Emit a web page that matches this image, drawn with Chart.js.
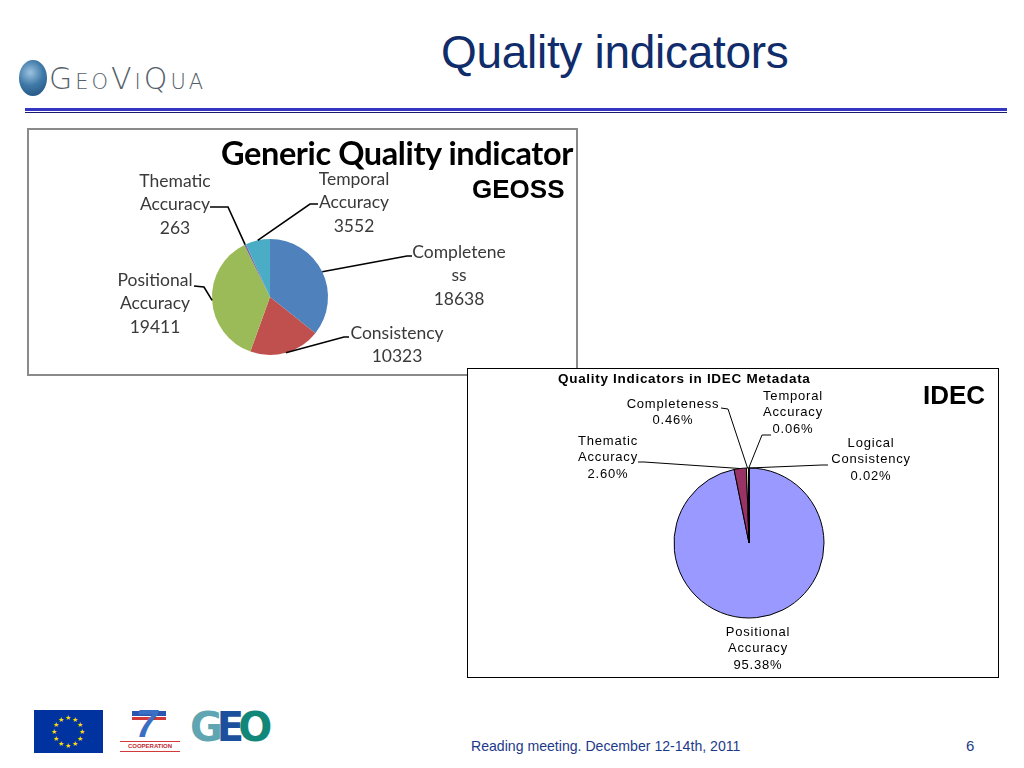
<!DOCTYPE html>
<html>
<head>
<meta charset="utf-8">
<script src="https://cdn.jsdelivr.net/npm/chart.js@4/dist/chart.umd.min.js"></script>
<style>
  html, body { margin:0; padding:0; background:#fff; }
  body { width:1024px; height:768px; position:relative; overflow:hidden; font-family:"Liberation Sans", Arial, sans-serif; }
  .abs { position:absolute; }
  #title { left:441px; top:25px; font-size:46px; color:#102C6A; white-space:nowrap; letter-spacing:-0.3px; }
  #rule1 { left:25px; top:108px; width:982px; height:3px; background:#3535C4; }
  #rule2 { left:25px; top:112px; width:982px; height:1px; background:#1a1a70; }
  #geossBox { left:27px; top:128px; width:547px; height:244px; border:2px solid #8a8a8a; background:#fff; }
  #idecBox { left:467px; top:368px; width:530px; height:308px; border:1px solid #000; background:#fff; }
  #geossTitle { left:221px; top:133px; font-family:Lato, "Open Sans", sans-serif; font-weight:bold; font-size:32.5px; color:#000; white-space:nowrap; letter-spacing:-0.4px; }
  #geossSub { left:472px; top:174px; font-weight:bold; font-size:26px; color:#000; }
  #idecTitle { left:558px; top:371px; font-weight:bold; font-size:13.5px; letter-spacing:0.7px; color:#000; white-space:nowrap; }
  #idecSub { left:923px; top:380px; font-weight:bold; font-size:26px; color:#000; }
  #footer { left:471px; top:737px; font-size:15px; color:#1C3A8A; white-space:nowrap; transform:scaleX(0.94); transform-origin:left top; }
  #pagenum { left:966px; top:737px; font-size:15px; color:#1C3A8A; }
  #globe { left:19px; top:60px; width:28px; height:36px; border-radius:50%;
           background:radial-gradient(circle at 40% 35%, #9cc3e0 0%, #3f79a8 45%, #1d4a78 100%); }
  #geovi { left:49px; top:61px; font-family:"DejaVu Sans", sans-serif; font-weight:300; color:#55606a; white-space:nowrap; letter-spacing:3px; }
  #geovi .b { font-size:30px; }
  #geovi .s { font-size:21px; }
  #eu { left:34px; top:710px; width:69px; height:43px; background:#0033A0; }
  #eu span { position:absolute; color:#FFDD00; font-size:7px; line-height:7px; }
  #fp7 { left:118px; top:711px; width:62px; height:42px; }
  #geo { left:190px; top:704px; font-family:"DejaVu Sans", sans-serif; font-weight:bold; font-size:40px; letter-spacing:-6px; white-space:nowrap; }
</style>
</head>
<body>
<div id="globe" class="abs"></div>
<div id="geovi" class="abs"><span class="b">G</span><span class="s">EO</span><span class="b">V</span><span class="s">I</span><span class="b">Q</span><span class="s">UA</span></div>
<div id="title" class="abs">Quality indicators</div>
<div id="rule1" class="abs"></div>
<div id="rule2" class="abs"></div>

<div id="geossBox" class="abs"><canvas id="geossChart" width="547" height="244"></canvas></div>
<div id="geossTitle" class="abs">Generic Quality indicator</div>
<div id="geossSub" class="abs">GEOSS</div>

<div id="idecBox" class="abs"><canvas id="idecChart" width="530" height="308"></canvas></div>
<div id="idecTitle" class="abs">Quality Indicators in IDEC Metadata</div>
<div id="idecSub" class="abs">IDEC</div>

<div id="eu" class="abs"></div>
<div id="fp7" class="abs">
  <div class="abs" style="left:14px;top:0;width:34px;height:5px;background:#2a56b0;"></div>
  <div class="abs" style="left:14px;top:6px;width:34px;height:3px;background:#d23a3a;"></div>
  <div class="abs" style="left:18px;top:-8px;font:italic bold 38px 'Liberation Sans';color:#3b6fc4;">7</div>
  <div class="abs" style="left:2px;top:30px;width:60px;height:9px;border-top:1px solid #d23a3a;border-bottom:1px solid #d23a3a;font:bold 6px 'Liberation Sans';color:#c0282d;text-align:center;line-height:9px;">COOPERATION</div>
</div>
<div id="geo" class="abs"><span style="color:#5FA6B2">G</span><span style="color:#1C4F9C">E</span><span style="color:#11877A">O</span></div>

<div id="footer" class="abs">Reading meeting. December 12-14th, 2011</div>
<div id="pagenum" class="abs">6</div>

<script>
// ---------- DATA ----------
const geossCategories = ['Completeness', 'Consistency', 'Positional Accuracy', 'Thematic Accuracy', 'Temporal Accuracy'];
const geossValues = [18638, 10323, 19411, 263, 3552];
const geossLabelLines = [['Completene', 'ss'], ['Consistency'], ['Positional', 'Accuracy'], ['Thematic', 'Accuracy'], ['Temporal', 'Accuracy']];

const idecCategories = ['Positional Accuracy', 'Thematic Accuracy', 'Completeness', 'Temporal Accuracy', 'Logical Consistency'];
const idecValues = [95.38, 2.60, 0.46, 0.06, 0.02];
const idecLabelLines = [['Positional', 'Accuracy'], ['Thematic', 'Accuracy'], ['Completeness'], ['Temporal', 'Accuracy'], ['Logical', 'Consistency']];

// ---------- STYLES / LAYOUT ----------
const geossColors = ['#4F81BD', '#C0504D', '#9BBB59', '#8064A2', '#4BACC6'];
const idecColors = ['#9999FF', '#993366', '#FFFFCC', '#CCFFFF', '#660066'];

// label anchor positions (canvas px), leader line end at label & elbow
const geossLabelLayout = [
  { x: 430, y: 122, end: [383, 126], elbow: [378, 126] },
  { x: 368, y: 203, end: [320, 207], elbow: [315, 207] },
  { x: 126, y: 150, end: [165, 156], elbow: [175, 157] },
  { x: 146, y: 51,  end: [181, 77],  elbow: [199, 77] },
  { x: 325, y: 49,  end: [289, 74],  elbow: [281, 74] }
];
const idecLabelLayout = [
  { x: 290, y: 263 },
  { x: 140, y: 72,  end: [170, 93], elbow: [176, 93] },
  { x: 205, y: 35,  end: [253, 39], elbow: [260, 40] },
  { x: 325, y: 27,  end: [303, 66], elbow: [294, 66] },
  { x: 403, y: 74,  end: [360, 96], elbow: [354, 96] }
];

const sliceLabels = {
  id: 'sliceLabels',
  afterDatasetsDraw(chart, args, o) {
    const ctx = chart.ctx;
    const meta = chart.getDatasetMeta(0);
    const vals = chart.data.datasets[0].data;
    ctx.save();
    ctx.font = o.font;
    ctx.fillStyle = o.color;
    ctx.strokeStyle = o.lineColor;
    ctx.lineWidth = o.lineWidth;
    ctx.textAlign = 'center';
    ctx.textBaseline = 'middle';
    if (o.letterSpacing) ctx.letterSpacing = o.letterSpacing;
    meta.data.forEach((arc, i) => {
      const lay = o.layout[i];
      if (!lay) return;
      const lines = o.lines[i].concat([o.format(vals[i])]);
      lines.forEach((t, k) => ctx.fillText(t, lay.x, lay.y + k * o.lineHeight));
      if (lay.end) {
        const p = arc.getProps(['x', 'y', 'startAngle', 'endAngle', 'outerRadius'], true);
        const mid = (p.startAngle + p.endAngle) / 2;
        const ax = p.x + Math.cos(mid) * p.outerRadius;
        const ay = p.y + Math.sin(mid) * p.outerRadius;
        ctx.beginPath();
        ctx.moveTo(lay.end[0], lay.end[1]);
        ctx.lineTo(lay.elbow[0], lay.elbow[1]);
        ctx.lineTo(ax, ay);
        ctx.stroke();
      }
    });
    ctx.restore();
  }
};

new Chart(document.getElementById('geossChart'), {
  type: 'pie',
  data: { labels: geossCategories, datasets: [{ data: geossValues, backgroundColor: geossColors, borderWidth: 0 }] },
  options: {
    responsive: false, animation: false, devicePixelRatio: 1,
    radius: 58,
    layout: { padding: { left: 176, right: 241, top: 102, bottom: 12 } },
    plugins: {
      legend: { display: false }, tooltip: { enabled: false },
      sliceLabels: {
        layout: geossLabelLayout, lines: geossLabelLines,
        format: v => String(v),
        font: '17.5px Lato, "Open Sans", sans-serif', color: '#3a3a3a',
        lineColor: '#000', lineWidth: 1.6, lineHeight: 23.5
      }
    }
  },
  plugins: [sliceLabels]
});

new Chart(document.getElementById('idecChart'), {
  type: 'pie',
  data: { labels: idecCategories, datasets: [{ data: idecValues, backgroundColor: idecColors, borderColor: '#000', borderWidth: 1 }] },
  options: {
    responsive: false, animation: false, devicePixelRatio: 1,
    radius: 75,
    layout: { padding: { left: 201, right: 169, top: 94, bottom: 54 } },
    plugins: {
      legend: { display: false }, tooltip: { enabled: false },
      sliceLabels: {
        layout: idecLabelLayout, lines: idecLabelLines,
        format: v => v.toFixed(2) + '%',
        font: '13px "Liberation Sans", Arial, sans-serif', color: '#000', letterSpacing: '0.8px',
        lineColor: '#000', lineWidth: 1, lineHeight: 16.5
      }
    }
  },
  plugins: [sliceLabels]
});

// EU flag stars (decorative)
(function () {
  const eu = document.getElementById('eu');
  for (let k = 0; k < 12; k++) {
    const a = k * Math.PI / 6;
    const s = document.createElement('span');
    s.textContent = '★';
    s.style.left = (34.5 - 3.5 + 14 * Math.sin(a)) + 'px';
    s.style.top = (21.5 - 3.5 - 14 * Math.cos(a)) + 'px';
    eu.appendChild(s);
  }
})();
</script>
</body>
</html>
